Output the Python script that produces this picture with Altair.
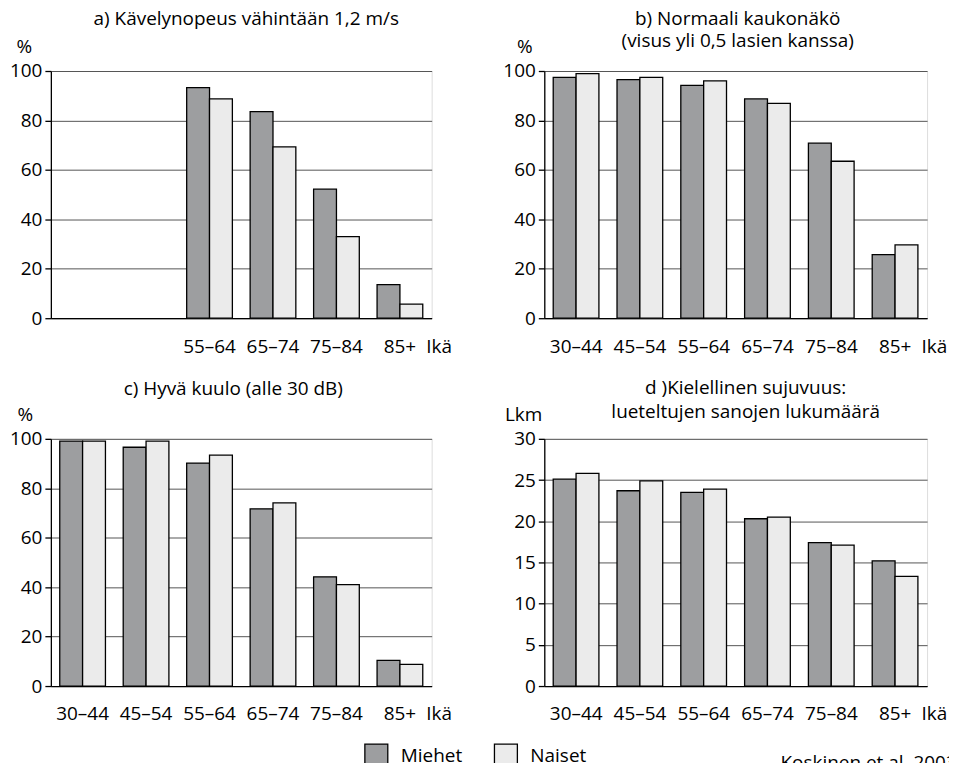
import altair as alt
import pandas as pd

ages = ["30–44", "45–54", "55–64", "65–74", "75–84", "85+"]
sexes = ["Miehet", "Naiset"]

walk_men = [None, None, 93.3, 83.6, 52.2, 13.6]
walk_women = [None, None, 88.7, 69.3, 33.0, 5.7]
vision_men = [97.4, 96.5, 94.2, 88.7, 70.8, 25.7]
vision_women = [98.9, 97.4, 96.0, 86.9, 63.5, 29.7]
hearing_men = [99.1, 96.6, 90.2, 71.7, 44.2, 10.4]
hearing_women = [99.1, 99.1, 93.4, 74.1, 41.0, 8.8]
fluency_men = [25.1, 23.7, 23.5, 20.3, 17.4, 15.2]
fluency_women = [25.8, 24.9, 23.9, 20.5, 17.1, 13.3]

source_note = ["Koskinen et al. 2003"]

FONT = "Open Sans"
FS = 19


def frame(men, women):
    rows = []
    for a, m, w in zip(ages, men, women):
        if m is not None:
            rows.append({"ika": a, "sukupuoli": "Miehet", "arvo": m})
        if w is not None:
            rows.append({"ika": a, "sukupuoli": "Naiset", "arvo": w})
    return pd.DataFrame(rows)


legend = alt.Legend(
    orient="none", legendX=314, legendY=674, direction="horizontal", title=None,
    symbolType="square", symbolSize=529, symbolStrokeColor="black",
    symbolStrokeWidth=1.3, symbolOpacity=1, labelFontSize=FS, labelFont=FONT,
    labelColor="black", labelOffset=12, columnPadding=29, padding=0,
)


def panel(df, title, ytitle, ymax, ystep, width, hide=(), dx=0, label_pad=19,
          ytx=-35, yty=-19, toff=-7, lh=23):
    hide_list = "[" + ",".join("'" + h + "'" for h in hide) + "]"
    x = alt.X(
        "ika:N",
        sort=ages,
        scale=alt.Scale(domain=ages, paddingInner=0.28, paddingOuter=0.14),
        axis=alt.Axis(
            title="Ikä", labelAngle=0, ticks=False, labelPadding=label_pad,
            labelExpr=f"indexof({hide_list}, datum.value) >= 0 ? '' : datum.value",
            labelFontSize=FS, labelFont=FONT, labelColor="black",
            titleX=width - 6, titleY=label_pad, titleAlign="left",
            titleBaseline="top", titleFontWeight="normal", titleFontSize=FS,
            titleFont=FONT, titleColor="black", domainColor="black",
            domainWidth=1.3, grid=False,
        ),
    )
    y = alt.Y(
        "arvo:Q",
        scale=alt.Scale(domain=[0, ymax], nice=False),
        axis=alt.Axis(
            title=ytitle, titleAngle=0, titleX=ytx, titleY=yty, titleAlign="left",
            titleBaseline="alphabetic", titleFontWeight="normal", titleFontSize=FS,
            titleFont=FONT, titleColor="black",
            values=list(range(0, ymax + 1, ystep)), tickSize=6, tickColor="black",
            tickWidth=1.3, domainColor="black", domainWidth=1.3, labelPadding=3,
            labelFontSize=FS, labelFont=FONT, labelColor="black",
            grid=True, gridColor="#555555", gridWidth=1,
        ),
    )
    bars = alt.Chart(df).mark_bar(stroke="black", strokeWidth=1.3).encode(
        x=x,
        xOffset=alt.XOffset("sukupuoli:N", sort=sexes, scale=alt.Scale(domain=sexes)),
        y=y,
        color=alt.Color(
            "sukupuoli:N",
            scale=alt.Scale(domain=sexes, range=["#9d9ea0", "#ebebeb"]),
            legend=legend,
        ),
    )
    return bars.properties(
        width=width, height=248,
        title=alt.TitleParams(
            text=title, fontSize=FS, font=FONT, fontWeight="normal", color="black",
            baseline="alphabetic", lineHeight=lh, offset=toff, anchor="middle",
            frame="group", dx=dx,
        ),
    )


pa = panel(frame(walk_men, walk_women), "a) Kävelynopeus vähintään 1,2 m/s",
           "%", 100, 20, 382, hide=("30–44", "45–54"), dx=5, ytx=-35, toff=-7)
pb = panel(frame(vision_men, vision_women),
           ["b) Normaali kaukonäkö", "(visus yli 0,5 lasien kanssa)"],
           "%", 100, 20, 384, dx=2, ytx=-28, toff=-29, lh=22)
pc = panel(frame(hearing_men, hearing_women), "c) Hyvä kuulo (alle 30 dB)",
           "%", 100, 20, 382, dx=-8, ytx=-34, yty=-18, toff=-8)
pd_bars = panel(frame(fluency_men, fluency_women),
                ["d )Kielellinen sujuvuus:", "lueteltujen sanojen lukumäärä"],
                "Lkm", 30, 5, 384, dx=10, ytx=-40, yty=-18, toff=-31, lh=24)

note = alt.Chart(pd.DataFrame({"t": source_note})).mark_text(
    align="left", baseline="alphabetic", fontSize=FS, font=FONT, color="black"
).encode(x=alt.value(237), y=alt.value(331), text="t:N")

pdd = alt.layer(pd_bars, note)

chart = alt.concat(
    pa, pb, pc, pdd, columns=2, spacing={"row": 121, "column": 113}, bounds="flush"
).properties(
    padding={"left": 0, "top": 0, "right": -9, "bottom": -12}
).configure_view(stroke="black", strokeWidth=1.3).configure(font=FONT)

chart.save("out.html", embed_options={"renderer": "svg", "actions": False})
